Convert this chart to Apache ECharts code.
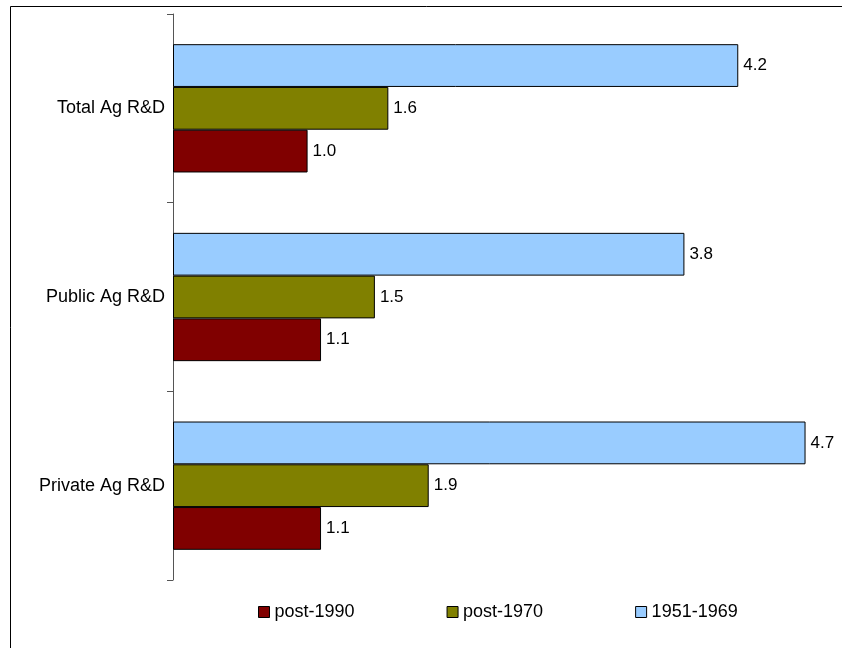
<!DOCTYPE html>
<html><head><meta charset="utf-8">
<script src="https://cdn.jsdelivr.net/npm/echarts@6/dist/echarts.min.js"></script>
<style>html,body{margin:0;padding:0;background:#fff}#c{width:842px;height:648px}</style>
</head><body><div id="c"></div>
<script>
const categories = ['Private Ag R&D', 'Public Ag R&D', 'Total Ag R&D'];
const seriesNames = ['post-1990', 'post-1970', '1951-1969'];
const post1990 = [1.1, 1.1, 1.0];
const post1970 = [1.9, 1.5, 1.6];
const y1951 = [4.7, 3.8, 4.2];
const colors = ['#800000', '#808000', '#99CCFF'];
const FONT = "'Liberation Sans Narrow', 'Arial Narrow', 'Liberation Sans', Arial, sans-serif";

const chart = echarts.init(document.getElementById('c'));
const values = [post1990, post1970, y1951];
const order = [2, 1, 0];
chart.setOption({
  animation: false,
  backgroundColor: '#fff',
  graphic: [{type: 'rect', shape: {x: 10.5, y: 6.5, width: 900, height: 700}, style: {fill: 'none', stroke: '#000', lineWidth: 1}, z: 100}],
  grid: {left: 173, top: 14, height: 566, width: 646, containLabel: false},
  xAxis: {type: 'value', min: 0, max: 4.8, show: false},
  yAxis: {
    type: 'category', data: categories,
    axisLine: {lineStyle: {color: '#555', width: 1}},
    axisTick: {show: true, length: 6, lineStyle: {color: '#555'}},
    axisLabel: {color: '#000', fontFamily: FONT, fontSize: 18, margin: 8},
    splitLine: {show: false}
  },
  legend: {
    bottom: 22, left: 253, itemWidth: 11, itemHeight: 11, itemGap: 92,
    textStyle: {fontFamily: FONT, fontSize: 18, color: '#000'},
    data: seriesNames.map((n, i) => ({name: n, icon: 'rect', itemStyle: {color: colors[i], borderColor: '#000', borderWidth: 1}}))
  },
  series: order.map(i => ({
    name: seriesNames[i], type: 'bar', data: values[i],
    barGap: '0%', barCategoryGap: '32%',
    itemStyle: {color: colors[i], borderColor: '#000', borderWidth: 1},
    label: {show: true, position: 'right', distance: 5, color: '#000', fontFamily: FONT, fontSize: 17,
      formatter: p => p.value.toFixed(1)}
  }))
});
</script></body></html>
